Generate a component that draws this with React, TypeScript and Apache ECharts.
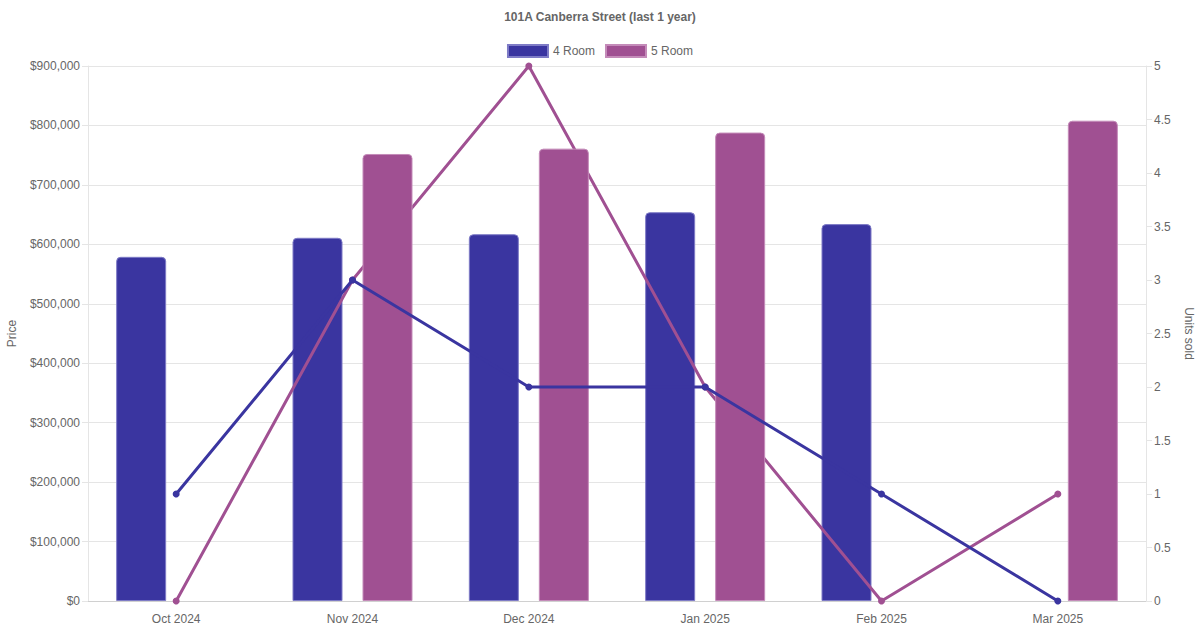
import React, { useEffect, useRef } from "react";
import * as echarts from "echarts";

const categories = ["Oct 2024", "Nov 2024", "Dec 2024", "Jan 2025", "Feb 2025", "Mar 2025"];
const price4Room: (number | null)[] = [579000, 611000, 617000, 654000, 634000, null];
const price5Room: (number | null)[] = [null, 752000, 761000, 788000, null, 808000];
const units4Room = [1, 3, 2, 2, 1, 0];
const units5Room = [0, 3, 5, 2, 0, 1];

const BLUE = "#3a35a0";
const PURPLE = "#a05092";
const FONT = "'Liberation Sans', Arial, Helvetica, sans-serif";

export default function App() {
  const ref = useRef<HTMLDivElement>(null);
  useEffect(() => {
    if (!ref.current) return;
    const chart = echarts.init(ref.current, undefined, { renderer: "svg" });
    chart.setOption({
      animation: false,
      textStyle: { fontFamily: FONT },
      title: {
        text: "101A Canberra Street (last 1 year)",
        left: "center",
        top: 6,
        textStyle: { fontSize: 12, fontWeight: "bold", color: "#666", fontFamily: FONT },
      },
      legend: {
        top: 39,
        left: "center",
        icon: "rect",
        itemWidth: 40,
        itemHeight: 12,
        itemGap: 10,
        data: ["4 Room", "5 Room"],
        textStyle: { fontSize: 12, color: "#666", fontFamily: FONT },
      },
      grid: { left: 88, right: 54, top: 66, bottom: 29, containLabel: false, outerBoundsMode: "none" },
      xAxis: {
        type: "category",
        data: categories,
        boundaryGap: true,
        axisLine: { show: true, lineStyle: { color: "#d0d0d0" } },
        axisTick: { show: false },
        axisLabel: { color: "#666", fontSize: 12, margin: 12, fontFamily: FONT },
        splitLine: { show: false },
      },
      yAxis: [
        {
          type: "value",
          min: 0,
          max: 900000,
          interval: 100000,
          name: "Price",
          nameLocation: "middle",
          nameRotate: 90,
          nameGap: 70,
          nameTextStyle: { color: "#666", fontSize: 12, fontFamily: FONT },
          axisLine: { show: true, lineStyle: { color: "#e5e5e5" } },
          axisTick: { show: true, length: 6, lineStyle: { color: "#e5e5e5" } },
          axisLabel: {
            color: "#666",
            fontSize: 12,
            margin: 8,
            fontFamily: FONT,
            formatter: (v: number) => "$" + v.toLocaleString("en-US"),
          },
          splitLine: { show: true, lineStyle: { color: "#e5e5e5" } },
        },
        {
          type: "value",
          min: 0,
          max: 5,
          interval: 0.5,
          name: "Units sold",
          nameLocation: "middle",
          nameRotate: -90,
          nameGap: 37,
          nameTextStyle: { color: "#666", fontSize: 12, fontFamily: FONT },
          axisLine: { show: true, lineStyle: { color: "#e5e5e5" } },
          axisTick: { show: true, length: 6, lineStyle: { color: "#e5e5e5" } },
          axisLabel: {
            color: "#666",
            fontSize: 12,
            margin: 8,
            fontFamily: FONT,
            formatter: (v: number) => String(v),
          },
          splitLine: { show: false },
        },
      ],
      series: [
        {
          name: "4 Room",
          type: "bar",
          data: price4Room,
          yAxisIndex: 0,
          barWidth: 50,
          barGap: "40%",
          z: 1,
          itemStyle: { color: BLUE, borderRadius: [4, 4, 0, 0], borderWidth: 1, borderColor: "#7e7bc6" },
        },
        {
          name: "5 Room",
          type: "bar",
          data: price5Room,
          yAxisIndex: 0,
          barWidth: 50,
          barGap: "40%",
          z: 3,
          itemStyle: { color: PURPLE, borderRadius: [4, 4, 0, 0], borderWidth: 1, borderColor: "#c48bb9" },
        },
        {
          name: "5 Room",
          type: "line",
          data: units5Room,
          yAxisIndex: 1,
          z: 2,
          symbol: "circle",
          symbolSize: 7,
          lineStyle: { color: PURPLE, width: 3 },
          itemStyle: { color: PURPLE },
        },
        {
          name: "4 Room",
          type: "line",
          data: units4Room,
          yAxisIndex: 1,
          z: 4,
          symbol: "circle",
          symbolSize: 7,
          lineStyle: { color: BLUE, width: 3 },
          itemStyle: { color: BLUE },
        },
      ],
    });
    return () => chart.dispose();
  }, []);
  return (
    <div
      ref={ref}
      style={{ position: "fixed", left: 0, top: 0, width: 1200, height: 630, background: "#fff" }}
    />
  );
}
